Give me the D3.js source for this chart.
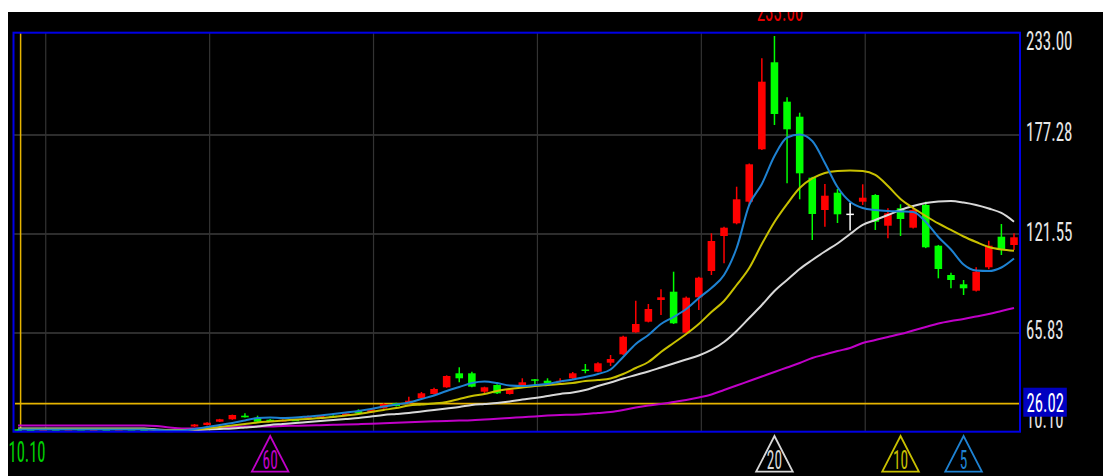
<!DOCTYPE html>
<html><head><meta charset="utf-8">
<script src="https://cdn.jsdelivr.net/npm/d3@7"></script>
<style>html,body{margin:0;padding:0;background:#fff;overflow:hidden}svg{display:block}</style>
</head><body><svg id="c" width="1103" height="476"></svg>
<script>
// ---- data ----
const opens = [11.6,11.5,11.2,11.6,11.3,11.7,11.4,11.6,11.3,11.7,11.5,11.2,10.9,10.7,
13.20,14.04,15.90,17.25,19.28,18.15,17.0,16.3,17.0,18.26,18.15,19.2,19.5,21.92,21.19,23.44,
26.25,26.25,29.07,31.49,35.26,43.14,43.14,32.78,36.56,31.49,36.56,39.76,38.98,38.24,40.33,
45.28,44.04,49.11,53.83,66.22,72.19,84.40,89.07,65.99,85.92,100.72,120.42,127.57,139.73,169.23,
218.20,196.02,187.58,153.24,135.06,144.80,133.03,139.73,143.50,126.22,136.02,125.10,137.87,114.96,98.47,
93.24,89.64,102.81,120.03,115.36];
const closes = [11.3,11.2,11.6,11.3,11.7,11.4,11.6,11.3,11.7,11.5,11.2,10.9,10.7,11.0,
14.32,15.34,17.25,19.67,18.37,15.90,16.2,16.9,16.6,18.82,19.28,19.0,20.6,20.63,22.88,25.86,
24.74,27.72,31.88,34.30,41.62,40.33,35.60,35.26,31.88,34.13,38.08,39.20,37.51,38.98,43.14,
44.72,48.77,51.19,63.74,70.89,79.33,85.92,71.28,85.70,96.95,117.61,125.10,141.08,160.78,207.28,
189.10,180.48,155.71,132.81,143.11,132.64,133.03,141.98,128.47,133.20,130.00,135.06,114.06,101.85,95.66,
90.99,100.33,114.96,113.11,119.69];
const highs = [11.8,11.7,11.8,11.7,11.9,11.8,11.8,11.7,11.8,11.8,11.6,11.3,11.0,11.2,
14.6,15.6,17.5,19.9,20.63,19.28,17.4,17.2,17.3,19.2,19.6,19.5,21.0,22.88,23.3,26.3,
26.6,29.97,32.6,35.0,42.0,46.52,44.04,35.6,37.0,34.6,40.33,39.9,40.33,40.33,43.87,
48.38,49.3,53.44,64.3,84.01,82.15,90.42,100.33,86.3,97.5,121.94,125.6,148.17,161.3,220.45,
233.00,198.50,189.83,153.7,149.69,146.88,139.10,149.53,144.0,136.02,138.27,136.92,139.73,115.4,99.77,
95.66,102.81,117.78,127.18,121.94];
const lows = [10.10,11.0,11.1,11.2,11.2,11.3,11.3,11.2,11.2,11.3,11.0,10.7,10.5,10.6,
13.0,13.8,15.7,17.0,18.2,15.7,15.8,16.0,16.4,18.0,18.0,18.8,19.3,20.4,21.0,23.2,
24.4,25.9,28.8,31.2,35.0,38.08,35.3,31.32,31.5,31.2,36.2,36.0,37.2,38.0,40.0,
43.14,43.8,47.25,53.5,65.9,71.8,75.96,70.9,65.6,78.77,98.47,105.06,127.0,137.87,168.8,
182.91,150.09,141.08,118.17,125.66,127.74,123.52,137.87,123.80,119.13,120.42,124.6,113.6,96.61,90.99,
87.22,89.2,101.68,109.73,112.54];

const ma5 = [11.51,11.51,11.51,11.51,11.51,11.51,11.51,11.51,11.51,11.51,11.51,11.23,10.94,10.94,
11.79,12.91,14.04,15.17,16.57,17.98,18.26,17.98,18.26,18.82,19.39,20.23,21.08,21.92,23.05,24.45,
25.58,26.71,28.68,30.65,33.18,35.43,37.68,38.53,37.68,36.27,35.99,36.56,37.12,38.53,39.65,
41.06,42.75,45.28,52.32,59.64,64.70,70.89,74.83,79.34,85.53,91.16,98.48,113.67,137.88,149.70,
165.46,175.88,177.56,173.90,161.52,148.01,139.73,136.19,135.06,134.50,134.22,133.94,128.31,119.87,112.83,
104.39,101.01,100.73,102.70,107.76];
const ma10 = [11.79,11.79,11.79,11.79,11.79,11.79,11.79,11.79,11.79,11.79,11.79,11.23,11.23,11.23,
11.51,12.07,12.91,13.76,14.60,15.45,16.01,16.57,17.14,17.42,17.98,18.54,19.39,20.23,21.36,22.48,
23.61,25.02,25.58,26.14,26.99,28.68,30.36,31.49,33.18,34.30,35.15,35.99,36.56,37.12,37.68,
38.81,39.37,40.22,42.75,46.13,49.50,55.13,60.20,65.26,70.89,77.65,83.84,92.84,102.41,115.92,
128.31,138.44,147.45,152.80,155.89,157.02,157.30,157.02,154.77,148.58,141.27,136.19,131.69,127.47,123.81,
120.15,117.05,114.24,112.83,112.15];
const ma20 = [12.07,12.07,12.07,12.07,12.07,12.07,12.07,12.07,12.07,12.07,12.07,11.51,11.23,11.23,
11.23,11.51,11.79,12.07,12.63,13.20,14.04,14.60,15.17,15.73,16.29,16.85,17.42,17.98,18.82,19.67,
20.23,20.80,21.64,22.48,23.33,24.17,25.30,25.86,26.42,27.27,28.39,29.24,30.36,31.49,32.33,
33.74,35.99,37.96,40.22,42.19,44.15,46.41,48.66,50.91,53.16,56.26,60.76,66.95,74.27,81.59,
89.47,95.66,101.85,106.92,111.70,116.21,121.55,126.62,129.43,132.25,135.06,137.32,139.00,139.85,140.13,
139.28,137.88,135.91,133.38,128.48];
const ma60 = [13.76,13.76,13.76,13.76,13.76,13.76,13.76,13.76,13.76,13.76,13.76,13.48,12.63,12.07,
12.07,12.35,12.63,12.91,13.20,13.20,13.20,13.48,13.59,13.76,13.93,14.15,14.32,14.49,14.72,15.00,
15.28,15.56,15.84,16.12,16.35,16.52,16.74,17.14,17.53,17.98,18.43,18.88,19.33,19.67,19.84,
20.23,20.80,21.36,22.48,23.89,25.02,25.86,26.99,28.11,29.52,31.21,33.74,36.27,38.81,41.34,
43.87,46.41,48.94,51.75,53.72,55.69,57.38,60.20,61.89,63.58,65.26,67.23,69.20,71.17,72.58,
73.71,75.11,76.52,78.21,79.90];

const gridValues = [177.28, 121.55, 65.83];
const axisValues = [233.00, 177.28, 121.55, 65.83, 10.10];
const refLevel = 26.02;
const priceMin = 10.10, priceMax = 233.00;
const gridBars = [2, 15, 28, 41, 54, 67];
const maPeriods = [60, 20, 10, 5];

// ---- drawing ----
const W = 1103, H = 476;
const svg = d3.select("#c");
const n = closes.length;
const x = d3.scaleLinear().domain([0, n - 1]).range([18, 1014]);
const y = d3.scaleLinear().domain([priceMin, priceMax]).range([432, 36]);
const step = x(1) - x(0);
const FONT = "'Liberation Sans Narrow','Roboto Condensed','DejaVu Sans Condensed','Liberation Sans',sans-serif";

svg.append("rect").attr("x", 0).attr("y", 0).attr("width", W).attr("height", H).attr("fill", "#000");

// grid
const g = svg.append("g");
g.selectAll("line.h").data(gridValues).join("line")
  .attr("x1", 14).attr("x2", 1020).attr("y1", d => y(d)).attr("y2", d => y(d))
  .attr("stroke", "#3c3c3c").attr("stroke-width", 1.5);
g.selectAll("line.v").data(gridBars).join("line")
  .attr("x1", d => x(d) + step * 0.2).attr("x2", d => x(d) + step * 0.2)
  .attr("y1", 33).attr("y2", 431)
  .attr("stroke", "#333").attr("stroke-width", 1.2);

// yellow reference lines
svg.append("line").attr("x1", 15).attr("x2", 1020).attr("y1", y(refLevel)).attr("y2", y(refLevel))
  .attr("stroke", "#e6b400").attr("stroke-width", 1.8);
svg.append("line").attr("x1", x(0) + 2.6).attr("x2", x(0) + 2.6).attr("y1", 33).attr("y2", 431)
  .attr("stroke", "#e6b400").attr("stroke-width", 1.5);

// candles
const idx = d3.range(n);
const col = i => closes[i] > opens[i] ? "#ff0000" : (closes[i] < opens[i] ? "#00ff00" : "#ffffff");
const cg = svg.append("g");
cg.selectAll("line.w").data(idx).join("line")
  .attr("x1", i => x(i)).attr("x2", i => x(i))
  .attr("y1", i => y(highs[i])).attr("y2", i => y(lows[i]))
  .attr("stroke", col).attr("stroke-width", 1.5);
const bw = step * 0.6;
cg.selectAll("rect").data(idx).join("rect")
  .attr("x", i => x(i) - bw / 2).attr("width", bw)
  .attr("y", i => y(Math.max(opens[i], closes[i])))
  .attr("height", i => Math.max(1.5, Math.abs(y(opens[i]) - y(closes[i]))))
  .attr("fill", col);

// moving averages
const maSeries = [
  {v: ma60, c: "#c000c8"},
  {v: ma20, c: "#d8d8d8"},
  {v: ma10, c: "#c8c000"},
  {v: ma5, c: "#1e82d2"}
];
const line = d3.line().x((d, i) => x(i)).y(d => y(d)).curve(d3.curveMonotoneX);
svg.append("g").selectAll("path").data(maSeries).join("path")
  .attr("d", d => line(d.v)).attr("fill", "none")
  .attr("stroke", d => d.c).attr("stroke-width", 2);

// frame
svg.append("rect").attr("x", 13.5).attr("y", 32.7).attr("width", 1006.5).attr("height", 399)
  .attr("fill", "none").attr("stroke", "#0000e6").attr("stroke-width", 2);

// right axis labels
const ax = svg.append("g").attr("transform", "translate(1026,0)")
  .call(d3.axisRight(y).tickValues(axisValues).tickSize(0).tickPadding(0).tickFormat(d3.format(".2f")));
ax.select(".domain").remove();
ax.selectAll(".tick").attr("transform", null);
ax.selectAll(".tick text")
  .attr("x", 0).attr("dy", null)
  .attr("y", d => Math.min(428, Math.max(50, y(d) + 6.5)))
  .attr("fill", "#e6e6e6").attr("font-family", FONT).attr("font-size", 26)
  .attr("text-anchor", "start")
  .attr("textLength", d => d3.format(".2f")(d).length === 6 ? 46.5 : 37.5)
  .attr("lengthAdjust", "spacingAndGlyphs");

// current ref level box
svg.append("rect").attr("x", 1023.3).attr("y", y(refLevel) - 16).attr("width", 43.5).attr("height", 29)
  .attr("fill", "#0000c0");
svg.append("text").attr("x", 1026.5).attr("y", y(refLevel) + 8)
  .attr("fill", "#fff").attr("font-family", FONT).attr("font-size", 26)
  .attr("textLength", 37.5).attr("lengthAdjust", "spacingAndGlyphs")
  .text(d3.format(".2f")(refLevel));

// low marker
const lowIdx = d3.minIndex(lows);
svg.append("text").attr("x", 8.5).attr("y", 461.5)
  .attr("fill", "#00d200").attr("font-family", FONT).attr("font-size", 30)
  .attr("textLength", 37).attr("lengthAdjust", "spacingAndGlyphs")
  .text(d3.format(".2f")(lows[lowIdx]));

// high marker (clipped by the white band above)
const hiIdx = d3.maxIndex(highs);
svg.append("text").attr("x", x(hiIdx) + 5.5).attr("y", 21).attr("text-anchor", "middle")
  .attr("fill", "#e60000").attr("font-family", FONT).attr("font-size", 27)
  .attr("textLength", 46.5).attr("lengthAdjust", "spacingAndGlyphs")
  .text(d3.format(".2f")(highs[hiIdx]));

// MA period triangles
const triCol = {60: "#c000c8", 20: "#d8d8d8", 10: "#c8c000", 5: "#1e82d2"};
const tg = svg.append("g").selectAll("g").data(maPeriods).join("g")
  .attr("transform", p => `translate(${x(n - p)},0)`);
tg.append("path")
  .attr("d", () => { const p = d3.path(); p.moveTo(0, 436); p.lineTo(18.3, 471.7); p.lineTo(-18.3, 471.7); p.closePath(); return p.toString(); })
  .attr("fill", "none").attr("stroke", p => triCol[p]).attr("stroke-width", 1.8);
tg.append("text").attr("x", 0).attr("y", 468.5).attr("text-anchor", "middle")
  .attr("fill", p => triCol[p]).attr("font-family", FONT).attr("font-size", 25)
  .attr("textLength", p => String(p).length * 7.6).attr("lengthAdjust", "spacingAndGlyphs")
  .text(p => p);

// white margins
svg.append("rect").attr("x", 0).attr("y", 0).attr("width", W).attr("height", 12).attr("fill", "#fff");
svg.append("rect").attr("x", 0).attr("y", 0).attr("width", 8).attr("height", H).attr("fill", "#fff");
</script>
</body></html>
